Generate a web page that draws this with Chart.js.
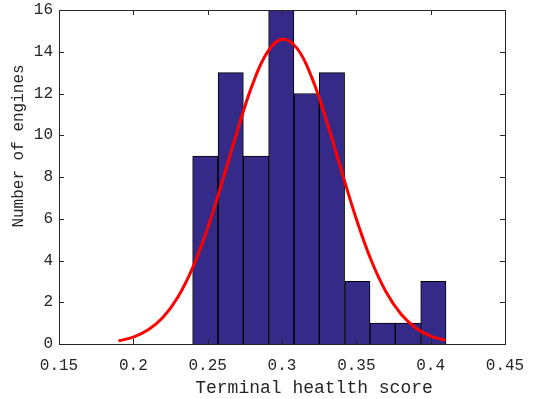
<!DOCTYPE html>
<html lang="en">
<head>
    <meta charset="UTF-8">
    <title>Terminal health score histogram</title>
    <script src="https://cdn.jsdelivr.net/npm/chart.js@4.4.1/dist/chart.umd.min.js"></script>
    <style>
        body {
            margin: 0;
            background-color: #fff;
        }
        .chart-container {
            position: relative;
            width: 534px;
            height: 399px;
        }
    </style>
</head>
<body>
    <div class="chart-container">
        <canvas id="histChart"></canvas>
    </div>

    <script>
        // Histogram bins (centers) and counts
        const binCenters = [0.2484, 0.2655, 0.2825, 0.2995, 0.3166, 0.3336, 0.3507, 0.3677, 0.3847, 0.4018];
        const binCounts = [9, 13, 9, 16, 12, 13, 3, 1, 1, 3];

        // Fitted curve, sampled from the red line
        const curveX = [0.19, 0.20, 0.21, 0.22, 0.23, 0.24, 0.25, 0.26, 0.27, 0.28, 0.29, 0.30,
                        0.31, 0.32, 0.33, 0.34, 0.35, 0.36, 0.37, 0.38, 0.39, 0.40, 0.41];
        const curveY = [0.15, 0.33, 0.68, 1.28, 2.25, 3.67, 5.56, 7.82, 10.22, 12.40, 13.96, 14.60,
                        14.17, 12.77, 10.68, 8.30, 5.99, 4.01, 2.49, 1.44, 0.77, 0.38, 0.18];

        const xTicks = [0.15, 0.2, 0.25, 0.3, 0.35, 0.4, 0.45];
        const yTicks = [0, 2, 4, 6, 8, 10, 12, 14, 16];

        const xTitle = 'Terminal heatlth score';
        const yTitle = 'Number of engines';

        const axisColor = '#262626';
        const monoFont = "'Liberation Mono', 'DejaVu Sans Mono', monospace";

        // MATLAB-like box with inward ticks
        const boxPlugin = {
            id: 'boxTicks',
            afterDatasetsDraw(chart) {
                const { ctx, chartArea: a, scales } = chart;
                const len = 5;
                ctx.save();
                ctx.strokeStyle = axisColor;
                ctx.lineWidth = 1;
                ctx.beginPath();
                scales.x.ticks.forEach(t => {
                    const px = Math.round(scales.x.getPixelForValue(t.value)) + 0.5;
                    ctx.moveTo(px, a.bottom); ctx.lineTo(px, a.bottom - len);
                    ctx.moveTo(px, a.top); ctx.lineTo(px, a.top + len);
                });
                scales.y.ticks.forEach(t => {
                    const py = Math.round(scales.y.getPixelForValue(t.value)) + 0.5;
                    ctx.moveTo(a.left, py); ctx.lineTo(a.left + len, py);
                    ctx.moveTo(a.right, py); ctx.lineTo(a.right - len, py);
                });
                ctx.stroke();
                ctx.strokeRect(Math.round(a.left) + 0.5, Math.round(a.top) + 0.5,
                               Math.round(a.right - a.left), Math.round(a.bottom - a.top));
                ctx.restore();
            }
        };

        // axis titles, placed where the original figure has them (a bit off-centre)
        const titlePlugin = {
            id: 'axisTitles',
            afterDraw(chart) {
                const { ctx, chartArea: a } = chart;
                ctx.save();
                ctx.fillStyle = axisColor;
                ctx.textAlign = 'center';

                ctx.font = '18px ' + monoFont;
                ctx.textBaseline = 'alphabetic';
                ctx.fillText(xTitle, (a.left + a.right) / 2 + 32, a.bottom + 49);

                ctx.font = '16px ' + monoFont;
                ctx.textBaseline = 'middle';
                ctx.translate(19, (a.top + a.bottom) / 2 - 31);
                ctx.rotate(-Math.PI / 2);
                ctx.fillText(yTitle, 0, 0);
                ctx.restore();
            }
        };

        const ctx = document.getElementById('histChart').getContext('2d');
        new Chart(ctx, {
            type: 'bar',
            data: {
                datasets: [
                    {
                        type: 'line',
                        data: curveX.map((x, i) => ({ x: x, y: curveY[i] })),
                        borderColor: '#ff0000',
                        borderWidth: 3,
                        pointRadius: 0,
                        tension: 0.4,
                        fill: false,
                        order: 0
                    },
                    {
                        type: 'bar',
                        data: binCenters.map((x, i) => ({ x: x, y: binCounts[i] })),
                        backgroundColor: '#352a87',
                        borderColor: '#000000',
                        borderWidth: 1,
                        barPercentage: 1,
                        categoryPercentage: 1,
                        order: 1
                    }
                ]
            },
            options: {
                responsive: true,
                maintainAspectRatio: false,
                animation: false,
                layout: {
                    padding: { top: 10, right: 29, left: 0, bottom: 0 }
                },
                plugins: {
                    legend: { display: false },
                    tooltip: { enabled: false }
                },
                scales: {
                    x: {
                        type: 'linear',
                        min: 0.15,
                        max: 0.45,
                        offset: false,
                        afterBuildTicks: scale => {
                            scale.ticks = xTicks.map(v => ({ value: v }));
                        },
                        afterFit: scale => {
                            scale.height = 55;
                            scale.paddingLeft = 0;
                            scale.paddingRight = 0;
                        },
                        grid: { display: false, drawTicks: false },
                        border: { display: false },
                        ticks: {
                            padding: 12,
                            color: axisColor,
                            font: { family: monoFont, size: 16 },
                            maxRotation: 0,
                            callback: v => String(Number(v.toFixed(2)))
                        }
                    },
                    y: {
                        min: 0,
                        max: 16,
                        afterBuildTicks: scale => {
                            scale.ticks = yTicks.map(v => ({ value: v }));
                        },
                        afterFit: scale => {
                            scale.width = 59;
                            scale.paddingTop = 0;
                            scale.paddingBottom = 0;
                        },
                        grid: { display: false, drawTicks: false },
                        border: { display: false },
                        ticks: {
                            padding: 6,
                            color: axisColor,
                            font: { family: monoFont, size: 16 }
                        }
                    }
                }
            },
            plugins: [boxPlugin, titlePlugin]
        });
    </script>
</body>
</html>
